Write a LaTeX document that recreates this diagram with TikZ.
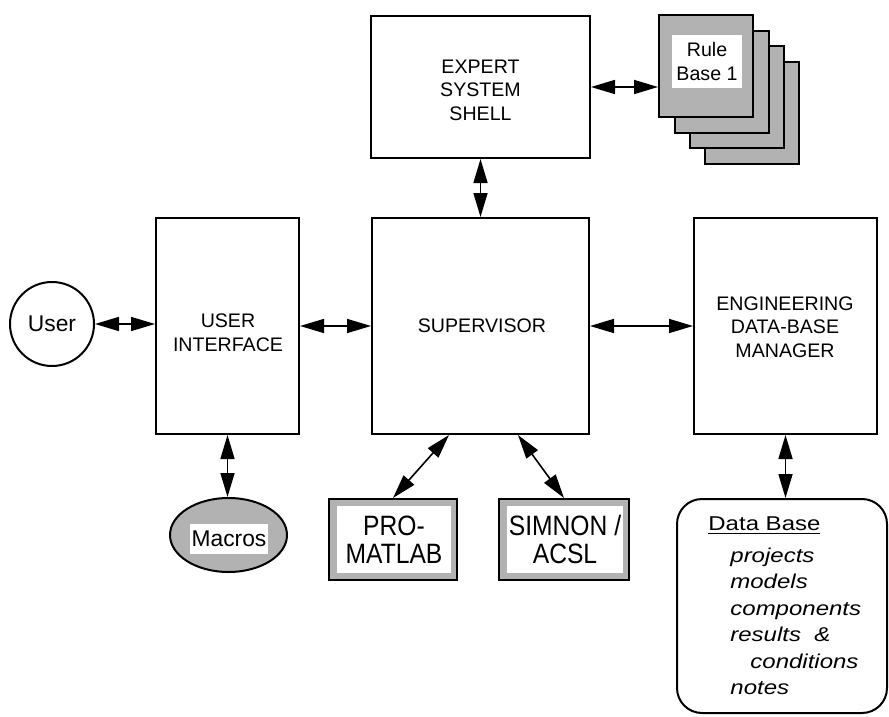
\documentclass[tikz,border=0pt]{standalone}
\usepackage{fontspec}
\setmainfont{Liberation Sans}
\newfontfamily\dbfont[FakeStretch=1.2]{Liberation Sans}
\newfontfamily\bigfont[FakeStretch=0.88]{Liberation Sans}
\usetikzlibrary{arrows.meta,shapes.geometric}

\begin{document}
\begin{tikzpicture}[x=0.5pt,y=-0.5pt,
  box/.style={draw,line width=1pt,fill=white,inner sep=0pt},
  shadebox/.style={draw,line width=1pt,fill=black!30,inner sep=0pt},
  hole/.style={fill=white,inner sep=0pt,align=center},
  lbl/.style={font=\fontsize{9.8pt}{11.8pt}\selectfont,align=center,inner sep=0pt},
  big/.style={font=\bigfont\fontsize{14pt}{14pt}\selectfont},
  mid/.style={font=\fontsize{11.4pt}{13pt}\selectfont},
  dbtxt/.style={font=\dbfont\itshape\fontsize{10pt}{12pt}\selectfont,anchor=base west,inner sep=0pt},
  link/.style={line width=0.8pt,{Triangle[length=12pt,width=7pt]}-{Triangle[length=12pt,width=7pt]}},
]
\useasboundingbox (0,0) rectangle (889,717);

% main boxes
\node[box,minimum width=109.5pt,minimum height=71pt] (exp) at (480.5,87) {};
\node[lbl] (expt) at (480.5,90) {EXPERT\\SYSTEM\\SHELL};
\node[box,minimum width=108.5pt,minimum height=108pt] (sup) at (480.5,326) {};
\node[lbl] (supt) at (482,326) {SUPERVISOR};
\node[box,minimum width=71.5pt,minimum height=108pt] (ui) at (227.5,326) {};
\node[lbl] (uit) at (228,333) {USER\\INTERFACE};
\node[box,minimum width=91.5pt,minimum height=108pt] (eng) at (785.5,326) {};
\node[lbl] (engt) at (785,327) {ENGINEERING\\DATA-BASE\\MANAGER};

% rule base cards
\node[shadebox,minimum width=47pt,minimum height=51pt] (r4) at (752,113) {};
\node[shadebox,minimum width=47pt,minimum height=51pt] (r3) at (737,97) {};
\node[shadebox,minimum width=47pt,minimum height=51pt] (r2) at (722,82.5) {};
\node[shadebox,minimum width=47pt,minimum height=51pt] (r1) at (706,66) {};
\node[hole,minimum width=35pt,minimum height=26.5pt,font=\fontsize{9.8pt}{12pt}\selectfont] (r1t) at (707,61.5) {Rule\\Base 1};

% user
\node[draw,circle,line width=1pt,minimum size=42pt,inner sep=0pt,mid] (user) at (52,324) {User};

% macros
\node[shadebox,ellipse,minimum width=58.5pt,minimum height=37pt] (mac) at (228.5,535) {};
\node[hole,minimum width=39pt,minimum height=15pt,mid] (mact) at (229,539) {Macros};

% tools
\node[shadebox,minimum width=64pt,minimum height=40.5pt] (pro) at (393,539.5) {};
\node[hole,minimum width=57pt,minimum height=33.5pt,big] (prot) at (394,539.5) {PRO-\\MATLAB};
\node[shadebox,minimum width=65pt,minimum height=40.5pt] (sim) at (564,539.5) {};
\node[hole,minimum width=58pt,minimum height=33.5pt,big] (simt) at (565,539.5) {SIMNON /\\ACSL};

% data base
\node[draw,line width=1pt,rounded corners=12.5pt,minimum width=105pt,minimum height=107pt,inner sep=0pt] (db) at (782,606) {};
\node[font=\dbfont\fontsize{10pt}{12pt}\selectfont,anchor=base west,inner sep=0pt] (dbh) at (708,530) {\underline{Data Base}};
\node[dbtxt] (d1) at (730,562) {projects};
\node[dbtxt] (d2) at (730,588) {models};
\node[dbtxt] (d3) at (730,615) {components};
\node[dbtxt] (d4) at (730,641) {results \ \&};
\node[dbtxt] (d5) at (750,668) {conditions};
\node[dbtxt] (d6) at (730,694) {notes};

% connectors
\draw[link] (user.east) -- (user.east -| ui.west);
\draw[link] (ui.east) -- (sup.west);
\draw[link] (sup.east) -- (eng.west);
\draw[link] (exp.south) -- (exp.south |- sup.north);
\draw[link] (exp.east) -- (exp.east -| r1.west);
\draw[link] (ui.south) -- (ui.south |- mac.north);
\draw[link] ([xshift=-15.75pt]sup.south) -- (pro.north);
\draw[link] ([xshift=18.75pt]sup.south) -- (sim.north);
\draw[link] (eng.south) -- (eng.south |- db.north);
\end{tikzpicture}
\end{document}
